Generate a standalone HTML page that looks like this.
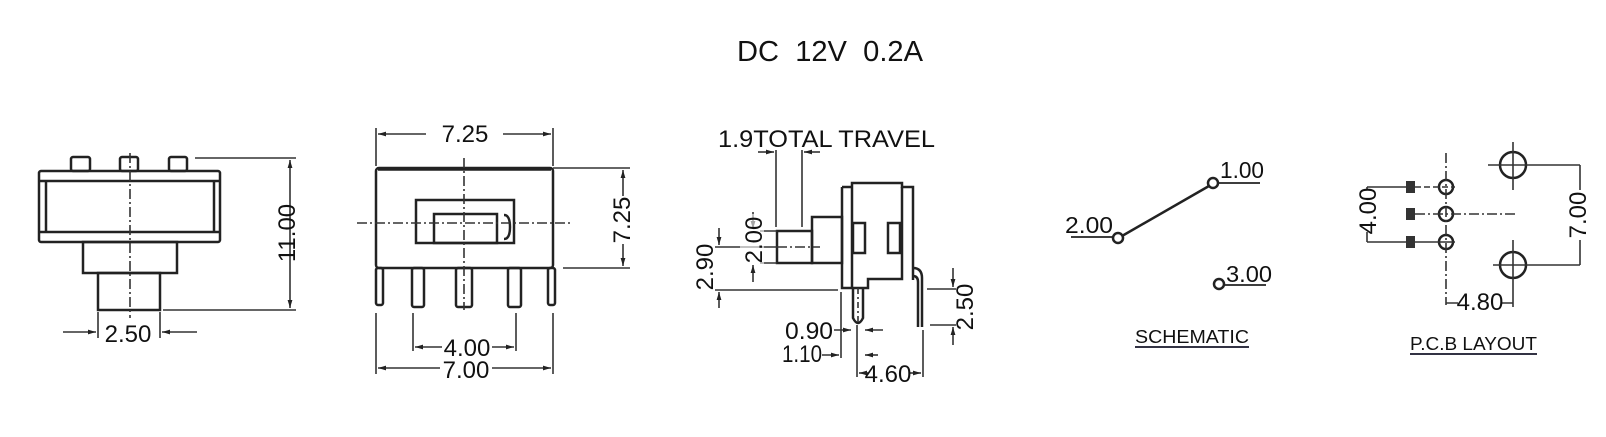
<!DOCTYPE html>
<html><head><meta charset="utf-8"><style>
html,body{margin:0;padding:0;background:#fff;}
svg{display:block;}
text{font-family:"Liberation Sans",sans-serif;fill:#111;}
</style></head><body>
<svg width="1606" height="437" viewBox="0 0 1606 437" xmlns="http://www.w3.org/2000/svg">
<defs>
<marker id="a" viewBox="0 0 10 10" refX="10" refY="5" markerWidth="7" markerHeight="5" orient="auto-start-reverse"><path d="M0,2 L10,5 L0,8 z" fill="#222"/></marker>
</defs>
<text x="737" y="61" font-size="29" textLength="186" lengthAdjust="spacingAndGlyphs">DC&#160;&#160;12V&#160;&#160;0.2A</text>

<!-- LEFT VIEW -->
<g fill="none" stroke="#222" stroke-width="2.5">
<rect x="39" y="171" width="181" height="71" rx="2"/>
<line x1="39" y1="181" x2="220" y2="181"/>
<line x1="39" y1="232" x2="220" y2="232"/>
<line x1="46" y1="181" x2="46" y2="232"/>
<line x1="214" y1="181" x2="214" y2="232"/>
<rect x="71" y="157" width="19" height="14" rx="2"/>
<rect x="120" y="157" width="18" height="14" rx="2"/>
<rect x="169" y="157" width="18" height="14" rx="2"/>
<rect x="83" y="242" width="94" height="31"/>
<rect x="98" y="273" width="62" height="37"/>
</g>
<g stroke="#333" stroke-width="1.6" fill="none">
<line x1="130" y1="153" x2="130" y2="318" stroke-dasharray="10,3,2,3"/>
<line x1="195" y1="158" x2="296" y2="158"/>
<line x1="163" y1="310" x2="296" y2="310"/>
<line x1="290" y1="160" x2="290" y2="308" marker-start="url(#a)" marker-end="url(#a)"/>
<line x1="98" y1="312" x2="98" y2="338"/>
<line x1="160" y1="312" x2="160" y2="338"/>
<line x1="63" y1="332" x2="96" y2="332" marker-end="url(#a)"/>
<line x1="197" y1="332" x2="162" y2="332" marker-end="url(#a)"/>
</g>
<text transform="translate(295,233) rotate(-90)" font-size="24" text-anchor="middle">11.00</text>
<text x="128" y="342" font-size="24" text-anchor="middle">2.50</text>

<!-- FRONT VIEW -->
<g fill="none" stroke="#222" stroke-width="2.5">
<rect x="376" y="168" width="177" height="100" rx="3"/>
<line x1="378" y1="169" x2="551" y2="169" stroke-width="3.5"/>
<rect x="416" y="200" width="98" height="43"/>
<rect x="434" y="214" width="63" height="29"/>
<path d="M504,215 q6,0 6,12 q0,12 -6,12"/>
<rect x="376" y="268" width="7" height="37" rx="2"/>
<rect x="548" y="268" width="7" height="37" rx="2"/>
<rect x="412" y="268" width="12" height="39" rx="2"/>
<rect x="456" y="268" width="16" height="39" rx="2"/>
<rect x="508" y="268" width="13" height="39" rx="2"/>
</g>
<g stroke="#333" stroke-width="1.6" fill="none">
<line x1="357" y1="223" x2="570" y2="223" stroke-dasharray="10,3,2,3"/>
<line x1="464" y1="158" x2="464" y2="310" stroke-dasharray="10,3,2,3"/>
<line x1="376" y1="128" x2="376" y2="166"/>
<line x1="553" y1="128" x2="553" y2="166"/>
<line x1="426" y1="134" x2="378" y2="134" marker-end="url(#a)"/>
<line x1="503" y1="134" x2="551" y2="134" marker-end="url(#a)"/>
<line x1="553" y1="168" x2="630" y2="168"/>
<line x1="563" y1="268" x2="630" y2="268"/>
<line x1="623" y1="170" x2="623" y2="266" marker-start="url(#a)" marker-end="url(#a)"/>
<line x1="413" y1="313" x2="413" y2="351"/>
<line x1="516" y1="313" x2="516" y2="351"/>
<line x1="442" y1="347" x2="415" y2="347" marker-end="url(#a)"/>
<line x1="492" y1="347" x2="514" y2="347" marker-end="url(#a)"/>
<line x1="376" y1="313" x2="376" y2="374"/>
<line x1="553" y1="313" x2="553" y2="374"/>
<line x1="440" y1="368" x2="378" y2="368" marker-end="url(#a)"/>
<line x1="492" y1="368" x2="551" y2="368" marker-end="url(#a)"/>
</g>
<text x="465" y="142" font-size="24" text-anchor="middle">7.25</text>
<rect x="613" y="196" width="20" height="48" fill="#fff"/>
<text transform="translate(630,220) rotate(-90)" font-size="24" text-anchor="middle">7.25</text>
<text x="467" y="356" font-size="24" text-anchor="middle">4.00</text>
<text x="466" y="378" font-size="24" text-anchor="middle">7.00</text>

<!-- SIDE VIEW -->
<text x="718" y="147" font-size="24" textLength="217" lengthAdjust="spacingAndGlyphs">1.9TOTAL TRAVEL</text>
<g fill="none" stroke="#222" stroke-width="2.5">
<path d="M852,187 L852,183 L902,183 L902,187 L913,187 L913,280"/>
<path d="M842,187 L852,187 M842,187 L842,288 L852,288 L852,187"/>
<path d="M852,288 L868,288 L868,279 L902,279 L902,187"/>
<rect x="853" y="223" width="12" height="30"/>
<rect x="888" y="223" width="12" height="30"/>
<rect x="777" y="231" width="35" height="32"/>
<rect x="812" y="217" width="30" height="46"/>
<path d="M853,288 L853,318 Q858,328 863,318 L863,288"/>
<path d="M913,268 Q922,268 922,278 L922,327 M913,276 Q918,276 918,282 L918,327"/>
</g>
<g stroke="#333" stroke-width="1.6" fill="none">
<line x1="777" y1="247" x2="820" y2="247" stroke-dasharray="10,3,2,3"/>
<line x1="858" y1="288" x2="858" y2="325" stroke-dasharray="6,3,2,3"/>
<line x1="776" y1="150" x2="776" y2="227"/>
<line x1="802" y1="150" x2="802" y2="227"/>
<line x1="758" y1="152" x2="774" y2="152" marker-end="url(#a)"/>
<line x1="820" y1="152" x2="804" y2="152" marker-end="url(#a)"/>
<line x1="760" y1="231" x2="777" y2="231"/>
<line x1="760" y1="263" x2="777" y2="263"/>
<line x1="753" y1="212" x2="753" y2="229" marker-end="url(#a)"/>
<line x1="753" y1="282" x2="753" y2="265" marker-end="url(#a)"/>
<line x1="715" y1="247" x2="777" y2="247"/>
<line x1="715" y1="290" x2="838" y2="290"/>
<line x1="719" y1="228" x2="719" y2="245" marker-end="url(#a)"/>
<line x1="719" y1="308" x2="719" y2="292" marker-end="url(#a)"/>
<line x1="927" y1="289" x2="958" y2="289"/>
<line x1="930" y1="325" x2="958" y2="325"/>
<line x1="953" y1="268" x2="953" y2="287" marker-end="url(#a)"/>
<line x1="953" y1="345" x2="953" y2="327" marker-end="url(#a)"/>
<line x1="834" y1="330" x2="851" y2="330" marker-end="url(#a)"/>
<line x1="883" y1="330" x2="865" y2="330" marker-end="url(#a)"/>
<line x1="841" y1="292" x2="841" y2="358"/>
<line x1="822" y1="355" x2="839" y2="355" marker-end="url(#a)"/>
<line x1="878" y1="355" x2="865" y2="355" marker-end="url(#a)"/>
<line x1="857" y1="325" x2="857" y2="377"/>
<line x1="923" y1="330" x2="923" y2="377"/>
<line x1="868" y1="373" x2="859" y2="373" marker-end="url(#a)"/>
<line x1="910" y1="373" x2="921" y2="373" marker-end="url(#a)"/>
</g>
<rect x="740" y="214" width="24" height="50" fill="#fff" opacity="0.6"/>
<text transform="translate(762,240) rotate(-90)" font-size="24" text-anchor="middle">2.00</text>
<text transform="translate(713,267) rotate(-90)" font-size="24" text-anchor="middle">2.90</text>
<rect x="956" y="286" width="20" height="42" fill="#fff"/>
<text transform="translate(973,307) rotate(-90)" font-size="24" text-anchor="middle">2.50</text>
<text x="785" y="339" font-size="24" textLength="48" lengthAdjust="spacingAndGlyphs">0.90</text>
<text x="782" y="362" font-size="24" textLength="40" lengthAdjust="spacingAndGlyphs">1.10</text>
<text x="888" y="382" font-size="24" text-anchor="middle">4.60</text>

<!-- SCHEMATIC -->
<g fill="none" stroke="#222" stroke-width="2.5">
<line x1="1122" y1="236" x2="1209" y2="186"/>
<circle cx="1118" cy="238" r="5"/>
<circle cx="1213" cy="183" r="5"/>
<circle cx="1219" cy="284" r="5"/>
</g>
<g stroke="#222" stroke-width="1.8">
<line x1="1071" y1="237" x2="1113" y2="237"/>
<line x1="1218" y1="183" x2="1260" y2="183"/>
<line x1="1224" y1="285" x2="1266" y2="285"/>
<line x1="1135" y1="347" x2="1249" y2="347" stroke="#334" stroke-width="2"/>
</g>
<text x="1065" y="233" font-size="23" textLength="48" lengthAdjust="spacingAndGlyphs">2.00</text>
<text x="1220" y="178" font-size="23" textLength="44" lengthAdjust="spacingAndGlyphs">1.00</text>
<text x="1226" y="282" font-size="23" textLength="46" lengthAdjust="spacingAndGlyphs">3.00</text>
<text x="1135" y="343" font-size="18" textLength="114" lengthAdjust="spacingAndGlyphs">SCHEMATIC</text>

<!-- PCB -->
<g fill="none" stroke="#222" stroke-width="2.5">
<circle cx="1446" cy="187" r="7"/>
<circle cx="1446" cy="214" r="7"/>
<circle cx="1446" cy="242" r="7"/>
<circle cx="1513" cy="165" r="13"/>
<circle cx="1513" cy="265" r="13"/>
</g>
<g fill="#333">
<rect x="1406" y="181" width="9" height="12"/>
<rect x="1406" y="208" width="9" height="12"/>
<rect x="1406" y="236" width="9" height="12"/>
</g>
<g stroke="#333" stroke-width="1.6" fill="none">
<line x1="1446" y1="153" x2="1446" y2="305" stroke-dasharray="10,3,2,3"/>
<line x1="1415" y1="214" x2="1515" y2="214" stroke-dasharray="10,3,2,3"/>
<line x1="1415" y1="187" x2="1455" y2="187" stroke-dasharray="6,3"/>
<line x1="1415" y1="242" x2="1455" y2="242"/>
<line x1="1513" y1="142" x2="1513" y2="190"/>
<line x1="1488" y1="165" x2="1580" y2="165"/>
<line x1="1513" y1="240" x2="1513" y2="307"/>
<line x1="1493" y1="265" x2="1580" y2="265"/>
<line x1="1580" y1="165" x2="1580" y2="265"/>
<line x1="1367" y1="187" x2="1406" y2="187"/>
<line x1="1367" y1="242" x2="1406" y2="242"/>
<line x1="1367" y1="187" x2="1367" y2="242"/>
<line x1="1446" y1="303" x2="1513" y2="303"/>
</g>
<rect x="1568" y="190" width="22" height="50" fill="#fff"/>
<text transform="translate(1586,215) rotate(-90)" font-size="24" text-anchor="middle">7.00</text>
<rect x="1357" y="190" width="20" height="42" fill="#fff"/>
<text transform="translate(1376,211) rotate(-90)" font-size="24" text-anchor="middle">4.00</text>
<rect x="1458" y="292" width="44" height="20" fill="#fff"/>
<text x="1480" y="310" font-size="24" text-anchor="middle">4.80</text>
<text x="1410" y="350" font-size="18" textLength="127" lengthAdjust="spacingAndGlyphs">P.C.B LAYOUT</text>
<line x1="1410" y1="354" x2="1537" y2="354" stroke="#334" stroke-width="2"/>
</svg>
</body></html>
